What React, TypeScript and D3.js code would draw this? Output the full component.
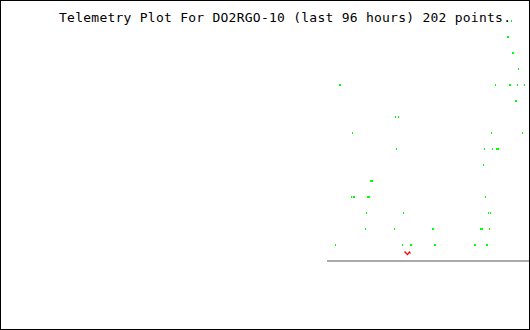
import React from "react";
import * as d3 from "d3";

// Title
const titleText = "Telemetry Plot For DO2RGO-10 (last 96 hours) 202 points.";

// Green series: time (hours relative to now) and value level
const pointHours: number[] = [
  // level 15
  -3.8,
  // level 14
  -4.6, -4.4,
  // level 13
  -3.6, -3.4,
  // level 12
  -2.4,
  // level 11
  -38.2, -38.0, -7.0, -4.2, -4.0, -2.6, -1.2,
  // level 10
  -3.0, -2.8,
  // level 9
  -27.0, -26.4,
  // level 8
  -35.6, -7.8, -1.6,
  // level 7
  -26.8, -9.2, -7.6, -6.8, -6.6, -6.4,
  // level 6
  -9.4,
  // level 5
  -32.0, -31.8, -31.6,
  // level 4
  -35.8, -35.4, -35.2, -32.6, -32.4, -32.2, -9.0,
  // level 3
  -32.8, -25.4, -8.4, -8.0,
  // level 2
  -33.0, -27.2, -19.6, -19.4, -10.0, -9.8, -9.6, -8.2,
  // level 1
  -39.0, -25.6, -24.0, -23.8, -19.2, -19.0, -11.2, -11.0, -8.8, -8.6,
];
const pointLevels: number[] = [
  15,
  14, 14,
  13, 13,
  12,
  11, 11, 11, 11, 11, 11, 11,
  10, 10,
  9, 9,
  8, 8, 8,
  7, 7, 7, 7, 7, 7,
  6,
  5, 5, 5,
  4, 4, 4, 4, 4, 4, 4,
  3, 3, 3, 3,
  2, 2, 2, 2, 2, 2, 2, 2,
  1, 1, 1, 1, 1, 1, 1, 1, 1, 1,
];

// Red series
const redHours: number[] = [-25.2, -24.6, -24.2, -24.0];
const redValues: number[] = [0.53, 0.34, 0.5, 0.41];

// Baseline start (earliest sample time, hours)
const baselineStartHours = -40.6;

const W = 530;
const H = 330;

export default function App() {
  const x = d3.scaleLinear().domain([-96, 0]).range([50, 530]);
  const y = d3.scaleLinear().domain([0, 15]).range([260, 20]);

  const redLine = d3
    .line<number>()
    .x((_, i) => x(redHours[i]) + 0.5)
    .y((_, i) => y(redValues[i]));

  return (
    <svg
      width={W}
      height={H}
      style={{ position: "absolute", left: 0, top: 0, display: "block", background: "#fff" }}
      shapeRendering="crispEdges"
    >
      <rect x={0} y={0} width={W} height={H} fill="#ffffff" />
      <text
        x={59}
        y={22}
        fontFamily="DejaVu Sans Mono"
        fontSize={13}
        fill="#000"
        textLength={452}
        lengthAdjust="spacing"
        style={{ whiteSpace: "pre" }}
      >
        {titleText}
      </text>
      <rect
        x={Math.round(x(baselineStartHours))}
        y={y(0)}
        width={W - 1 - Math.round(x(baselineStartHours))}
        height={2}
        fill="#aaaaaa"
      />
      {pointHours.map((h, i) => (
        <rect
          key={i}
          x={Math.round(x(h))}
          y={Math.round(y(pointLevels[i]))}
          width={1}
          height={2}
          fill="#00ff00"
        />
      ))}
      <path
        d={redLine(redValues) || ""}
        fill="none"
        stroke="#ff0000"
        strokeWidth={1.3}
        shapeRendering="auto"
      />
      <rect x={0.5} y={0.5} width={W - 1} height={H - 1} fill="none" stroke="#000" strokeWidth={1} />
    </svg>
  );
}
